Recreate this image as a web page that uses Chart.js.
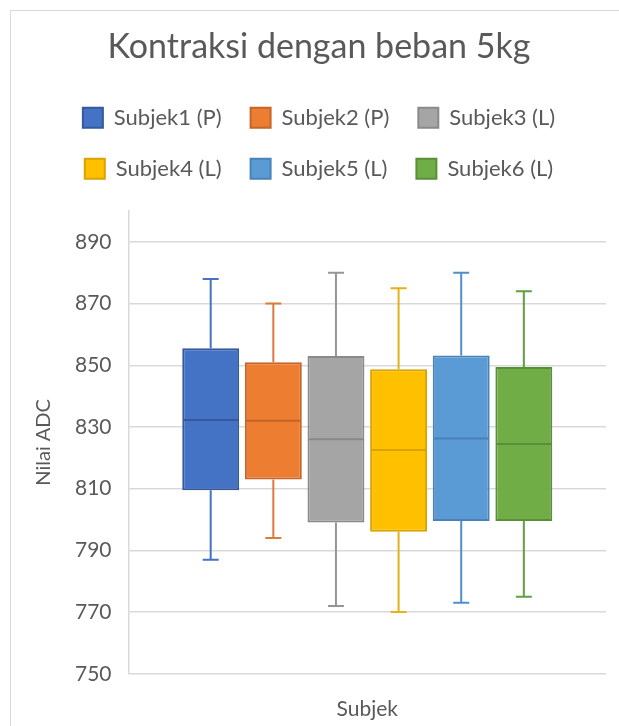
<!DOCTYPE html>
<html>
<head>
<meta charset="utf-8">
<script src="https://cdn.jsdelivr.net/npm/chart.js@4.4.0/dist/chart.umd.min.js"></script>
<style>
    html, body { margin: 0; padding: 0; background: #fff; overflow: hidden; }
    #frame { position: absolute; left: 10px; top: 10px; width: 700px; height: 800px;
             border-top: 1px solid #d9d9d9; border-left: 1px solid #d9d9d9; }
    #chart { position: absolute; left: 0; top: 0; }
</style>
</head>
<body>
<div id="frame"></div>
<canvas id="chart" width="626" height="745"></canvas>
<script>
// values
var categories = ['Subjek'];
var subjects = ['Subjek1 (P)', 'Subjek2 (P)', 'Subjek3 (L)', 'Subjek4 (L)', 'Subjek5 (L)', 'Subjek6 (L)'];
var minValues = [787, 794, 772, 770, 773, 775];
var q1Values = [809.5, 813, 799, 796, 799.5, 799.5];
var medianValues = [832.3, 832, 826, 822.5, 826.3, 824.5];
var q3Values = [855.5, 851, 853, 848.7, 853.2, 849.4];
var maxValues = [878, 870, 880, 875, 880, 874];
var yTicks = [750, 770, 790, 810, 830, 850, 870, 890];
var yMin = 750, yMax = 900;

var fillColors = ['#4472C4', '#ED7D31', '#A5A5A5', '#FFC000', '#5B9BD5', '#70AD47'];
var edgeColors = ['#35599A', '#C5652A', '#8A8A8A', '#D9A300', '#4A82B8', '#5A8F38'];
var whiskerColors = ['#4472C4', '#DC7A3C', '#969696', '#E6B018', '#4F8FCB', '#61A040'];
var textColor = '#595959';

// whiskers, caps and median line for each box
var boxWhiskers = {
    id: 'boxWhiskers',
    afterDatasetsDraw: function(chart) {
        var ctx = chart.ctx;
        var y = chart.scales.y;
        chart.data.datasets.forEach(function(ds, i) {
            var bar = chart.getDatasetMeta(i).data[0];
            var x = bar.x, half = bar.width / 2;
            var pMin = y.getPixelForValue(minValues[i]);
            var pMax = y.getPixelForValue(maxValues[i]);
            var pQ1 = y.getPixelForValue(q1Values[i]);
            var pQ3 = y.getPixelForValue(q3Values[i]);
            var pMed = y.getPixelForValue(medianValues[i]);
            ctx.save();
            ctx.lineWidth = 2;
            ctx.strokeStyle = whiskerColors[i];
            ctx.beginPath();
            ctx.moveTo(x, pQ3); ctx.lineTo(x, pMax);
            ctx.moveTo(x - 8, pMax); ctx.lineTo(x + 8, pMax);
            ctx.moveTo(x, pQ1); ctx.lineTo(x, pMin);
            ctx.moveTo(x - 8, pMin); ctx.lineTo(x + 8, pMin);
            ctx.stroke();
            ctx.strokeStyle = edgeColors[i];
            ctx.beginPath();
            ctx.moveTo(x - half + 1, pMed); ctx.lineTo(x + half - 1, pMed);
            ctx.stroke();
            ctx.restore();
        });
    }
};

document.addEventListener("DOMContentLoaded", function() {
    Chart.defaults.font.family = 'Lato, "Noto Sans", sans-serif';
    Chart.defaults.color = textColor;

    var datasets = subjects.map(function(name, i) {
        return {
            label: name,
            data: [[q1Values[i], q3Values[i]]],
            backgroundColor: fillColors[i],
            borderColor: edgeColors[i],
            borderWidth: 2,
            borderSkipped: false,
            categoryPercentage: 0.787,
            barPercentage: 0.909
        };
    });

    var ctx = document.getElementById('chart').getContext('2d');
    var chart = new Chart(ctx, {
        type: 'bar',
        data: { labels: categories, datasets: datasets },
        plugins: [boxWhiskers],
        options: {
            responsive: false,
            animation: false,
            layout: { padding: { left: 32, right: 20, top: 0, bottom: 0 } },
            plugins: {
                tooltip: { enabled: false },
                title: {
                    display: true,
                    text: 'Kontraksi dengan beban 5kg',
                    color: textColor,
                    font: { size: 34, weight: 'normal' },
                    padding: { top: 27, bottom: 10 }
                },
                // empty spacer between legend and plot
                subtitle: {
                    display: true,
                    text: '',
                    weight: 10,
                    font: { size: 1 },
                    padding: { top: 0, bottom: 20 }
                },
                legend: {
                    display: true,
                    position: 'top',
                    labels: {
                        boxWidth: 20,
                        boxHeight: 20,
                        padding: 29,
                        color: textColor,
                        font: { size: 22 }
                    }
                }
            },
            scales: {
                x: {
                    grid: { display: false, drawTicks: false },
                    border: { display: false },
                    ticks: { color: textColor, font: { size: 21 }, padding: 23 }
                },
                y: {
                    min: yMin,
                    max: yMax,
                    afterBuildTicks: function(scale) {
                        scale.ticks = yTicks.map(function(v) { return { value: v }; });
                    },
                    ticks: { color: textColor, font: { size: 21 }, padding: 17 },
                    grid: { color: '#D9D9D9', lineWidth: 1.5, drawTicks: false },
                    border: { color: '#D9D9D9', width: 1.5 },
                    title: {
                        display: true,
                        text: 'Nilai ADC',
                        color: textColor,
                        font: { size: 20 },
                        padding: { top: 0, bottom: 2 }
                    }
                }
            }
        }
    });
});
</script>
</body>
</html>
